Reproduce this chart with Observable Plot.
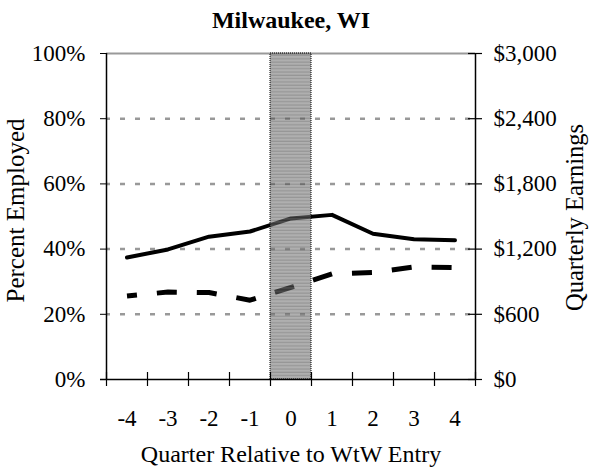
<!DOCTYPE html>
<html>
<head>
<meta charset="utf-8">
<script src="https://cdn.jsdelivr.net/npm/d3@7"></script>
<script src="https://cdn.jsdelivr.net/npm/@observablehq/plot@0.6"></script>
<style>
  html, body { margin: 0; padding: 0; background: #fff; }
  #chart svg { display: block; }
</style>
</head>
<body>
<div id="chart"></div>
<script>
// ---- data ----
const title = "Milwaukee, WI";
const quarters = [-4, -3, -2, -1, 0, 1, 2, 3, 4];
const percentEmployed = [37.4, 39.9, 43.8, 45.4, 49.4, 50.5, 44.7, 43.0, 42.7];
const quarterlyEarnings = [768, 805, 800, 730, 848, 972, 985, 1035, 1030];
const percentTicks = [0, 20, 40, 60, 80, 100];
const earningsMax = 3000;
const gridValues = [20, 40, 60, 80];
const entryQuarter = 0;
const xLabel = "Quarter Relative to WtW Entry";
const yLabelLeft = "Percent Employed";
const yLabelRight = "Quarterly Earnings";

const rows = quarters.map((q, i) => ({q, pct: percentEmployed[i], earn: quarterlyEarnings[i]}));
const toPct = (e) => e / earningsMax * 100;
const boundaries = d3.range(quarters[0] - 0.5, quarters[quarters.length - 1] + 1, 1);
const fmtMoney = (p) => "$" + d3.format(",")(Math.round(p / 100 * earningsMax));
const serif = "'Liberation Serif', 'Times New Roman', serif";

const chart = Plot.plot({
  width: 590,
  height: 471,
  marginLeft: 106,
  marginRight: 115,
  marginTop: 53,
  marginBottom: 92,
  style: {fontFamily: serif, fontSize: "23px", background: "#fff", color: "#000"},
  x: {domain: [quarters[0] - 0.5, quarters[quarters.length - 1] + 0.5], axis: null},
  y: {domain: [0, 100], axis: null},
  marks: [
    // gridlines
    Plot.ruleY(gridValues, {stroke: "#999", strokeWidth: 2.5, strokeDasharray: "5,10", strokeDashoffset: 1}),
    Plot.ruleY([100], {stroke: "#999", strokeWidth: 2}),
    // lines
    Plot.line(rows, {x: "q", y: "pct", stroke: "#000", strokeWidth: 4, strokeLinecap: "round", strokeLinejoin: "round"}),
    Plot.line(rows, {x: "q", y: d => toPct(d.earn), stroke: "#000", strokeWidth: 5, strokeDasharray: "20,20", strokeDashoffset: 10, strokeLinecap: "butt"}),
    // entry band (semi-transparent striped)
    Plot.rect([entryQuarter], {x1: d => d - 0.5, x2: d => d + 0.5, y1: 0, y2: 100, fill: "url(#stripes)", fillOpacity: 0.6}),
    Plot.rect([entryQuarter], {x1: d => d - 0.5, x2: d => d + 0.5, y1: 0, y2: 100, fill: "none", stroke: "#000", strokeWidth: 1, strokeDasharray: "1,1"}),
    // axis lines
    Plot.ruleX([boundaries[0], boundaries[boundaries.length - 1]], {stroke: "#000", strokeWidth: 1.5}),
    Plot.ruleY([0], {stroke: "#000", strokeWidth: 1.5, insetLeft: -6}),
    // x ticks at boundaries crossing axis
    Plot.ruleX(boundaries, {y1: 0, y2: 0, insetTop: -7, insetBottom: -7, stroke: "#000", strokeWidth: 1.2}),
    // left axis
    Plot.axisY({anchor: "left", ticks: percentTicks, tickSize: 6, tickPadding: 15, tickFormat: d => d + "%", label: null, fontSize: 23, fontFamily: serif}),
    // right ticks crossing
    Plot.ruleY(percentTicks, {x1: boundaries[boundaries.length - 1], x2: boundaries[boundaries.length - 1], insetLeft: -7, insetRight: -7, stroke: "#000", strokeWidth: 1.2}),
    Plot.axisY({anchor: "right", ticks: percentTicks, tickSize: 0, tickPadding: 18, tickFormat: fmtMoney, label: null, fontSize: 23, fontFamily: serif}),
    // x tick labels
    Plot.axisX({anchor: "bottom", ticks: quarters, tickSize: 0, tickPadding: 30, tickFormat: d => String(d), label: null, fontSize: 23, fontFamily: serif}),
    // titles
    Plot.text([title], {frameAnchor: "top", lineAnchor: "middle", dy: -33, fontWeight: "bold", fontSize: 24}),
    Plot.text([xLabel], {frameAnchor: "bottom", lineAnchor: "middle", dy: 75, fontSize: 24}),
    Plot.text([yLabelLeft], {frameAnchor: "left", textAnchor: "middle", lineAnchor: "middle", dx: -91, dy: -6, rotate: -90, fontSize: 25}),
    Plot.text([yLabelRight], {frameAnchor: "right", textAnchor: "middle", lineAnchor: "middle", dx: 100, dy: 1, rotate: -90, fontSize: 24.5})
  ]
});

// striped pattern definition for the entry band
const ns = "http://www.w3.org/2000/svg";
const defs = document.createElementNS(ns, "defs");
const pat = document.createElementNS(ns, "pattern");
pat.setAttribute("id", "stripes");
pat.setAttribute("patternUnits", "userSpaceOnUse");
pat.setAttribute("width", "4");
pat.setAttribute("height", "3.3");
const r1 = document.createElementNS(ns, "rect");
r1.setAttribute("width", "4"); r1.setAttribute("height", "3.3"); r1.setAttribute("fill", "#7a7a7a");
const r2 = document.createElementNS(ns, "rect");
r2.setAttribute("y", "2.1"); r2.setAttribute("width", "4"); r2.setAttribute("height", "1.2"); r2.setAttribute("fill", "#4f4f4f");
pat.appendChild(r1); pat.appendChild(r2); defs.appendChild(pat);
chart.insertBefore(defs, chart.firstChild);

document.getElementById("chart").appendChild(chart);
</script>
</body>
</html>
